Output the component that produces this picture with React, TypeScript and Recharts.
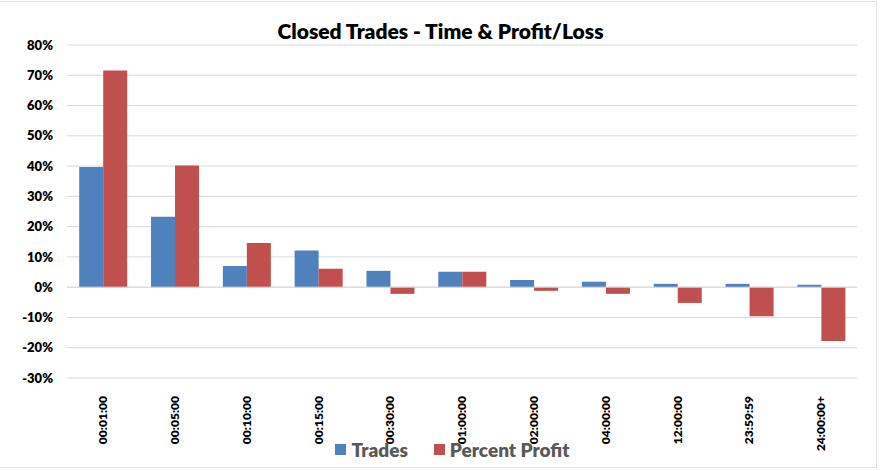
import { BarChart, Bar, XAxis, YAxis, CartesianGrid, Legend, ReferenceLine } from 'recharts';

const categories = ['00:01:00', '00:05:00', '00:10:00', '00:15:00', '00:30:00', '01:00:00', '02:00:00', '04:00:00', '12:00:00', '23:59:59', '24:00:00+'];
const trades = [39.7, 23.3, 7.0, 12.1, 5.4, 5.1, 2.4, 1.8, 1.1, 1.1, 0.8];
const percentProfit = [71.6, 40.2, 14.6, 6.1, -2.2, 5.1, -1.2, -2.2, -5.2, -9.6, -17.8];
const yTicks = [-30, -20, -10, 0, 10, 20, 30, 40, 50, 60, 70, 80];

const chartData = categories.map((name, i) => ({
  name,
  trades: trades[i],
  profit: percentProfit[i],
}));

const FONT = 'Lato, "Open Sans", sans-serif';

const RotatedTick = ({ x, y, payload }: { x?: number; y?: number; payload?: { value: string } }) => (
  <g transform={`translate(${x},${y})`}>
    <text
      transform="rotate(-90)"
      x={-10}
      dy="0.35em"
      textAnchor="end"
      fill="#000"
      fontSize={12}
      fontWeight={800}
      fontFamily={FONT}
    >
      {payload?.value}
    </text>
  </g>
);

// legend sits a bit right of the plot centre, like the original
const LegendContent = () => (
  <div style={{ display: 'flex', justifyContent: 'center', alignItems: 'center', height: 28, paddingLeft: 48, fontFamily: FONT }}>
    <span style={{ width: 11, height: 11, background: '#4F81BD', display: 'inline-block', marginRight: 5 }} />
    <span style={{ fontSize: 19, fontWeight: 800, color: '#595959', marginRight: 26 }}>Trades</span>
    <span style={{ width: 11, height: 11, background: '#C0504D', display: 'inline-block', marginRight: 5 }} />
    <span style={{ fontSize: 19, fontWeight: 800, color: '#595959' }}>Percent Profit</span>
  </div>
);

export default function App() {
  return (
    <div style={{ position: 'absolute', left: 0, top: 0, width: 881, height: 471, background: '#fff', fontFamily: FONT }}>
      <div
        style={{
          position: 'absolute',
          left: -1,
          top: 1,
          width: 878,
          height: 467,
          borderTop: '1px solid #E3E3E3',
          borderRight: '1px solid #E3E3E3',
          borderBottom: '1px solid #E3E3E3',
          boxSizing: 'border-box',
          pointerEvents: 'none',
        }}
      />
      <div
        style={{
          position: 'absolute',
          top: 18,
          left: 0,
          width: 881,
          textAlign: 'center',
          fontSize: 21,
          fontWeight: 800,
          color: '#000',
          zIndex: 1,
        }}
      >
        Closed Trades - Time &amp; Profit/Loss
      </div>
      <BarChart
        width={881}
        height={471}
        data={chartData}
        margin={{ top: 45, right: 24, left: 0, bottom: 8 }}
        barGap={0}
        barCategoryGap="17%"
      >
        <CartesianGrid stroke="#D9D9D9" vertical={false} />
        <XAxis
          dataKey="name"
          axisLine={false}
          tickLine={false}
          height={57}
          interval={0}
          tick={<RotatedTick />}
        />
        <YAxis
          domain={[-30, 80]}
          ticks={yTicks}
          interval={0}
          width={67}
          axisLine={false}
          tickLine={false}
          tickSize={0}
          tickMargin={14}
          tick={{ fill: '#000', fontSize: 13, fontWeight: 800, fontFamily: FONT }}
          tickFormatter={(v) => `${v}%`}
        />
        <ReferenceLine y={0} stroke="#D9D9D9" />
        <Legend verticalAlign="bottom" height={28} content={<LegendContent />} />
        <Bar dataKey="trades" name="Trades" fill="#4F81BD" isAnimationActive={false} />
        <Bar dataKey="profit" name="Percent Profit" fill="#C0504D" isAnimationActive={false} />
      </BarChart>
    </div>
  );
}
